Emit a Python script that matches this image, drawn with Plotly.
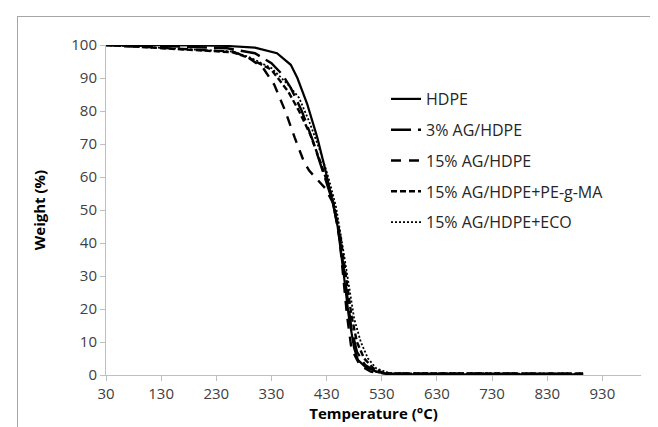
import plotly.graph_objects as go

# ---- data ----
hdpe_T = [30, 100, 200, 250, 300, 340, 365, 377, 395, 413, 428, 440, 450, 460, 470, 480, 487, 500, 520, 540, 560, 895]
hdpe_W = [100, 100, 99.9, 99.7, 99.2, 97.5, 94, 90, 82, 72, 62, 53, 45, 32, 18, 8, 4.5, 2.5, 1, 0.3, 0.2, 0.2]

ag3_T = [30, 150, 250, 300, 330, 350, 365, 385, 405, 425, 442, 455, 465, 475, 485, 500, 520, 545, 895]
ag3_W = [100, 99.6, 99, 97.5, 94.5, 91, 87, 80, 71, 61, 52, 40, 27, 14, 7, 3, 1, 0.4, 0.4]

ag15_T = [30, 120, 200, 260, 290, 315, 335, 355, 372, 388, 398, 412, 428, 442, 452, 460, 467, 475, 490, 510, 540, 895]
ag15_W = [100, 99.2, 98.6, 98, 96, 93, 88, 80, 72, 65, 62, 59.5, 56.5, 52, 44, 30, 18, 8, 3, 1, 0.4, 0.4]

pegma_T = [30, 120, 200, 260, 290, 330, 360, 380, 400, 420, 440, 455, 465, 475, 485, 498, 515, 535, 895]
pegma_W = [100, 99.1, 98.5, 97.8, 96, 92.5, 86, 80, 73, 64, 54, 42, 30, 18, 10, 5, 2, 0.5, 0.4]

eco_T = [30, 120, 200, 260, 290, 330, 360, 380, 398, 418, 433, 447, 460, 470, 480, 492, 505, 520, 545, 895]
eco_W = [100, 99.2, 98.7, 98, 96.3, 93, 88, 84, 77, 68, 60, 51, 38, 27, 17, 10, 5, 2, 0.5, 0.4]

names = ["HDPE", "3% AG/HDPE", "15% AG/HDPE", "15% AG/HDPE+PE-g-MA", "15% AG/HDPE+ECO"]
x_ticks = [30, 130, 230, 330, 430, 530, 630, 730, 830, 930]
y_ticks = [0, 10, 20, 30, 40, 50, 60, 70, 80, 90, 100]

series = [(hdpe_T, hdpe_W), (ag3_T, ag3_W), (ag15_T, ag15_W), (pegma_T, pegma_W), (eco_T, eco_W)]
dashes = ["solid", "20px,7px", "10px,8px", "6px,3px", "2px,2px"]
widths = [2.2, 2.4, 2.4, 2.4, 1.8]

FONT = "Open Sans"
fig = go.Figure()
for i, ((t, w), n) in enumerate(zip(series, names)):
    fig.add_trace(go.Scatter(x=t, y=w, name=n, mode="lines",
                             legendgroup=f"g{i}",
                             line=dict(color="black", width=widths[i], dash=dashes[i])))

L, R, T, B = 98, 25, 37, 60
W_, H_ = 658, 427
pw, ph = W_ - L - R, H_ - T - B

def px(xp):
    return (xp - L) / pw

def py(yp):
    return (H_ - B - yp) / ph

fig.update_layout(
    width=W_, height=H_,
    margin=dict(l=L, r=R, t=T, b=B, autoexpand=False),
    paper_bgcolor="white", plot_bgcolor="white",
    font=dict(family=FONT, size=15, color="#404040"),
    showlegend=True,
    legend=dict(x=px(378), y=py(74), xanchor="left", yanchor="top",
                font=dict(family=FONT, size=16, color="#262626"),
                tracegroupgap=7, bgcolor="rgba(0,0,0,0)", itemwidth=30),
    xaxis=dict(range=[30, 1000], tickmode="array", tickvals=x_ticks,
               ticktext=[str(v) for v in x_ticks], automargin=False,
               showgrid=False, zeroline=False, showline=True, linecolor="#bfbfbf",
               linewidth=1, ticks="outside", ticklen=5, tickcolor="#bfbfbf",
               tickfont=dict(size=15, color="#404040"),
               title=dict(text="<b>Temperature (°C)</b>", font=dict(size=15, color="black"), standoff=5)),
    yaxis=dict(range=[0, 100], tickmode="array", tickvals=y_ticks, automargin=False,
               showgrid=False, zeroline=False, showline=True, linecolor="#bfbfbf",
               linewidth=1, ticks="outside", ticklen=5, tickcolor="#bfbfbf",
               tickfont=dict(size=15, color="#404040"),
               title=dict(text="<b>Weight (%)</b>", font=dict(size=15, color="black"), standoff=22)),
    shapes=[
        dict(type="line", xref="paper", yref="paper", x0=px(9), x1=px(658), y0=py(8.5), y1=py(8.5),
             line=dict(color="#a6a6a6", width=1)),
        dict(type="line", xref="paper", yref="paper", x0=px(9.5), x1=px(9.5), y0=py(8), y1=py(427),
             line=dict(color="#a6a6a6", width=1)),
    ],
)

fig.write_html("out.html")
